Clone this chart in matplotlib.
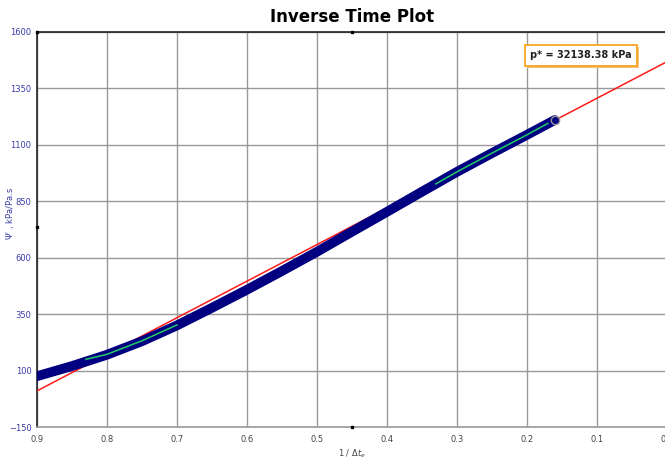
import matplotlib
matplotlib.use("Agg")
import matplotlib.pyplot as plt
import matplotlib.patheffects as pe

# data
blue_x = [0.90, 0.85, 0.80, 0.75, 0.70, 0.65, 0.60, 0.55, 0.50, 0.45, 0.40, 0.35, 0.30, 0.25, 0.20, 0.16]
blue_y = [75, 120, 170, 230, 300, 378, 458, 541, 626, 715, 803, 892, 980, 1063, 1144, 1210]

green_lo_x = [0.83, 0.80, 0.75, 0.70]
green_lo_y = [150, 172, 232, 302]
green_hi_x = [0.33, 0.30, 0.25, 0.20, 0.17]
green_hi_y = [927, 980, 1063, 1144, 1195]

red_x = [0.9, 0.0]
red_y = [10, 1468]

x_ticks = [0.9, 0.8, 0.7, 0.6, 0.5, 0.4, 0.3, 0.2, 0.1, 0.0]
x_labels = ["0.9", "0.8", "0.7", "0.6", "0.5", "0.4", "0.3", "0.2", "0.1", "0.0"]
y_ticks = [-150, 100, 350, 600, 850, 1100, 1350, 1600]

p_star = "p* = 32138.38 kPa"

fig = plt.figure(figsize=(6.65, 4.59), dpi=100)
ax = fig.add_axes([0.0556, 0.0697, 0.947, 0.8606])

ax.plot(red_x, red_y, color="#ff1a1a", lw=1.1, zorder=3)
ax.plot(blue_x, blue_y, color="#000080", lw=7, solid_capstyle="round",
        solid_joinstyle="round", zorder=4)
ax.plot(blue_x[-1], blue_y[-1], "o", ms=6, mfc="#000080", mec="#999999", mew=1, zorder=5)
ax.plot(green_lo_x, green_lo_y, color="#22cc66", lw=1.1, zorder=6)
ax.plot(green_hi_x, green_hi_y, color="#22cc66", lw=1.1, zorder=6)

ax.set_xlim(0.9, 0.0)
ax.set_ylim(-150, 1600)
ax.set_xticks(x_ticks)
ax.set_xticklabels(x_labels)
ax.set_yticks(y_ticks)
ax.tick_params(axis="both", length=0, labelsize=6)
ax.tick_params(axis="y", labelcolor="#3a3aa8", pad=4)
ax.tick_params(axis="x", labelcolor="#444444", pad=6)

ax.grid(True, color="#999999", lw=1.0)
for side in ["top", "left"]:
    ax.spines[side].set_color("#222222")
    ax.spines[side].set_linewidth(1.2)
ax.spines["bottom"].set_color("#999999")
ax.spines["bottom"].set_linewidth(1.2)
ax.spines["right"].set_visible(False)

# little axis marker dots
ax.plot([0.9, 0.9, 0.45, 0.45], [1600, 737, -150, 1600], "s", ms=2, color="black",
        clip_on=False, zorder=7)

ax.set_title("Inverse Time Plot", fontsize=12, fontweight="bold", pad=7)
ax.set_xlabel("1 / $\\Delta t_e$", fontsize=6, color="#444444", labelpad=2)
ax.set_ylabel("$\\Psi'$ , kPa/Pa.s", fontsize=6, color="#3a3aa8")
ax.yaxis.set_label_coords(-0.033, 0.54)

box = ax.text(0.195, 1497, p_star, fontsize=7, fontweight="bold", color="#222222",
              ha="left", va="center", zorder=8,
              bbox=dict(boxstyle="square,pad=0.55", fc="white", ec="#f5a623", lw=1.3))
box.get_bbox_patch().set_path_effects([
    pe.SimplePatchShadow(offset=(1.5, -1.5), shadow_rgbFace="#f5c27a", alpha=1.0),
    pe.Normal()])

fig.savefig("out.png", dpi=100)
